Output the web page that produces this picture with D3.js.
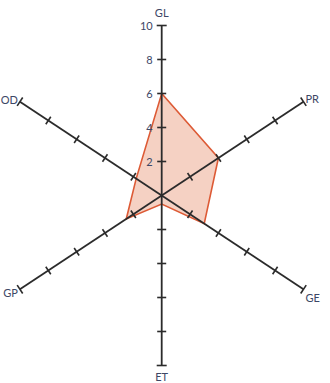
<!DOCTYPE html>
<html>
<head>
<meta charset="utf-8">
<script src="https://cdn.jsdelivr.net/npm/d3@7"></script>
<style>
  html, body { margin: 0; padding: 0; background: #fff; }
  svg { display: block; }
  text { font-family: Lato, "Open Sans", sans-serif; fill: #3d4766; }
</style>
</head>
<body>
<svg id="chart" width="330" height="383"></svg>
<script>
// Radar axes, clockwise from the top
const axes = ["GL", "PR", "GE", "ET", "GP", "OD"];
// Direction of each axis, degrees counter-clockwise from east
const axisAngles = [90, 33.5, -33.5, -90, -146.5, 146.5];
// Score on each axis
const values = [6, 4, 3, 0.5, 2.5, 1.8];
// Tick positions and the labels printed on the GL axis
const ticks = [2, 4, 6, 8, 10];
const tickLabels = ["2", "4", "6", "8", "10"];

const svg = d3.select("#chart");
const cx = 161.7, cy = 195.5;
const r = d3.scaleLinear().domain([0, 10]).range([0, 170]);

const rad = d => d * Math.PI / 180;
const pt = (i, v) => {
  const a = rad(axisAngles[i]);
  return [cx + Math.cos(a) * r(v), cy - Math.sin(a) * r(v)];
};

// Filled score polygon
const line = d3.line().curve(d3.curveLinearClosed);
const polyPts = values.map((v, i) => pt(i, v));
svg.append("path")
  .attr("d", line(polyPts))
  .attr("fill", "#f3c9b8")
  .attr("fill-opacity", 0.85)
  .attr("stroke", "none");

svg.append("path")
  .attr("d", line(polyPts))
  .attr("fill", "none")
  .attr("stroke", "#dd5a35")
  .attr("stroke-width", 1.6)
  .attr("stroke-linejoin", "miter");

// Axis spokes with perpendicular tick marks
const g = svg.append("g");
axes.forEach((name, i) => {
  const [x2, y2] = pt(i, 10);
  g.append("line")
    .attr("x1", cx).attr("y1", cy).attr("x2", x2).attr("y2", y2)
    .attr("stroke", "#2b2b2b").attr("stroke-width", 1.8);
  const a = rad(axisAngles[i]);
  const nx = Math.sin(a), ny = Math.cos(a); // perpendicular (screen coords)
  ticks.forEach(t => {
    const [tx, ty] = pt(i, t);
    const half = t === 10 ? 5 : 4.5;
    g.append("line")
      .attr("x1", tx - nx * half).attr("y1", ty - ny * half)
      .attr("x2", tx + nx * half).attr("y2", ty + ny * half)
      .attr("stroke", "#2b2b2b").attr("stroke-width", 1.6);
  });
});

// Tick labels on the GL axis
ticks.forEach((t, k) => {
  const [tx, ty] = pt(0, t);
  svg.append("text")
    .attr("x", tx - 9).attr("y", ty)
    .attr("text-anchor", "end")
    .attr("dominant-baseline", "central")
    .attr("font-size", 11)
    .text(tickLabels[k]);
});

// Axis names beyond each spoke end
const labelPos = [
  { dx: 0, dy: -13, anchor: "middle" },
  { dx: 2, dy: -3, anchor: "start" },
  { dx: 2, dy: 8, anchor: "start" },
  { dx: 0, dy: 11, anchor: "middle" },
  { dx: -2, dy: 3, anchor: "end" },
  { dx: -2, dy: -2, anchor: "end" }
];
axes.forEach((name, i) => {
  const [x, y] = pt(i, 10);
  svg.append("text")
    .attr("x", x + labelPos[i].dx).attr("y", y + labelPos[i].dy)
    .attr("text-anchor", labelPos[i].anchor)
    .attr("dominant-baseline", "central")
    .attr("font-size", 11)
    .text(name);
});
</script>
</body>
</html>
